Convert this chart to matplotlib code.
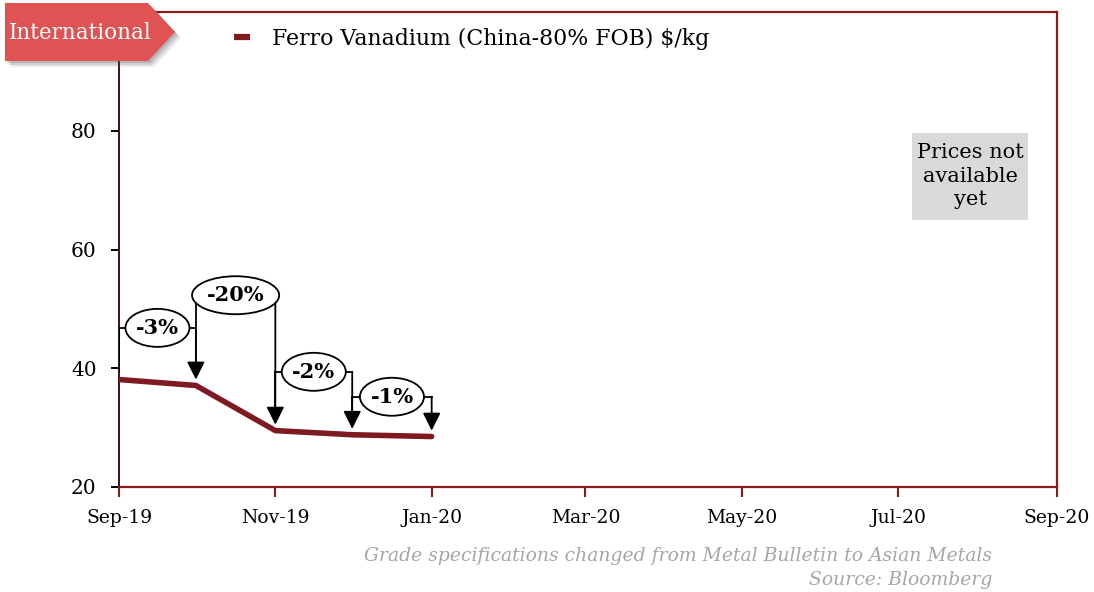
import matplotlib
matplotlib.use("Agg")
import matplotlib.pyplot as plt
import matplotlib.dates as mdates
from matplotlib.patches import Ellipse, Polygon, Rectangle
import datetime as dt

# ---- data ----
months = ["2019-09-01", "2019-10-01", "2019-11-01", "2019-12-01", "2020-01-01"]
prices = [38.1, 37.1, 29.5, 28.8, 28.5]
change_labels = ["-3%", "-20%", "-2%", "-1%"]
bracket_levels = [46.8, 52.3, 39.4, 35.2]
tick_dates = ["2019-09-01", "2019-11-01", "2020-01-01", "2020-03-01",
              "2020-05-01", "2020-07-01", "2020-09-01"]
tick_labels = ["Sep-19", "Nov-19", "Jan-20", "Mar-20", "May-20", "Jul-20", "Sep-20"]
y_ticks = [20, 40, 60, 80]
series_name = "Ferro Vanadium (China-80% FOB) $/kg"

x = [dt.datetime.fromisoformat(m) for m in months]
xt = [dt.datetime.fromisoformat(m) for m in tick_dates]

SERIF = ["DejaVu Serif"]
RED = "#8B1A1A"
LINE = "#7E1A22"

fig = plt.figure(figsize=(10.94, 5.92), dpi=100)
ax = fig.add_axes([119/1094, 1-487/592, (1057-119)/1094, (487-12)/592])

ax.plot(x, prices, color=LINE, lw=4, solid_capstyle="round", solid_joinstyle="round",
        label=series_name, zorder=3)

ax.set_xlim(xt[0], xt[-1])
ax.set_ylim(20, 100)
ax.set_xticks(xt)
ax.set_xticklabels(tick_labels, fontfamily=SERIF, fontsize=13.5)
ax.set_yticks(y_ticks)
ax.set_yticklabels([str(v) for v in y_ticks], fontfamily=SERIF, fontsize=14.5)

for s in ["top", "right", "bottom"]:
    ax.spines[s].set_color(RED)
    ax.spines[s].set_linewidth(1.6)
ax.spines["left"].set_color("#3b1212")
ax.spines["left"].set_linewidth(1.4)
ax.tick_params(axis="x", direction="out", length=7, width=1.5, color=RED, pad=9)
ax.tick_params(axis="y", direction="out", length=6, width=1.4, color="black", pad=10)

# ---- change brackets ----
tip_off = 1.0
for i, lab in enumerate(change_labels):
    x0, x1 = x[i], x[i + 1]
    L = bracket_levels[i]
    ax.plot([x0, x0], [prices[i] + 1.5, L], color="black", lw=1.3, zorder=4)
    ax.plot([x0, x1], [L, L], color="black", lw=1.3, zorder=4)
    ax.annotate("", xy=(x1, prices[i + 1] + tip_off), xytext=(x1, L),
                arrowprops=dict(arrowstyle="-|>,head_length=0.9,head_width=0.45",
                                color="black", lw=1.3, shrinkA=0, shrinkB=0,
                                mutation_scale=12), zorder=5)
    xm = x0 + (x1 - x0) / 2
    w = 34 if len(lab) > 3 else 25
    ax.add_patch(Ellipse((mdates.date2num(xm), L), width=w, height=6.4,
                         facecolor="white", edgecolor="black", lw=1.3, zorder=6))
    ax.text(xm, L, lab, ha="center", va="center", fontfamily=SERIF,
            fontweight="bold", fontsize=15, zorder=7)

# ---- Prices not available box ----
bx0 = (912 - 119) / (1057 - 119)
bx1 = (1028 - 119) / (1057 - 119)
by0 = (487 - 220) / (487 - 12)
by1 = (487 - 133) / (487 - 12)
ax.add_patch(Rectangle((bx0, by0), bx1 - bx0, by1 - by0, transform=ax.transAxes,
                       facecolor="#D9D9D9", edgecolor="none", zorder=2))
ax.text((bx0 + bx1) / 2, (by0 + by1) / 2, "Prices not\navailable\nyet",
        transform=ax.transAxes, ha="center", va="center", fontfamily=SERIF,
        fontsize=15, linespacing=1.3, zorder=3)

# ---- legend ----
leg = ax.legend(loc="center left", bbox_to_anchor=(214/1094, 1-39/592),
                bbox_transform=fig.transFigure, frameon=False, handlelength=0.75,
                handletextpad=1.0, prop=dict(family=SERIF, size=15.8))
for h in leg.get_lines():
    h.set_linewidth(4.5)
    h.set_solid_capstyle("butt")

# ---- International tag ----
W, H = 1094, 592
def fp(px, py):
    return (px / W, 1 - py / H)
for k, a in [(6, 0.12), (4, 0.18), (2, 0.22)]:
    sh = Polygon([fp(5 + k, 3 + k), fp(148 + k, 3 + k), fp(175 + k, 32 + k),
                  fp(148 + k, 61 + k), fp(5 + k, 61 + k)],
                 closed=True, transform=fig.transFigure, facecolor="#555555",
                 edgecolor="none", alpha=a, zorder=10)
    fig.patches.append(sh)
tag = Polygon([fp(5, 3), fp(148, 3), fp(175, 32), fp(148, 61), fp(5, 61)],
              closed=True, transform=fig.transFigure, facecolor="#E05355",
              edgecolor="none", zorder=11)
fig.patches.append(tag)
fig.text(9/W, 1 - 33/H, "International", color="white", fontfamily=SERIF,
         fontsize=15.5, ha="left", va="center", zorder=12)

# ---- footnotes ----
fig.text(992/W, 1 - 556/H, "Grade specifications changed from Metal Bulletin to Asian Metals",
         ha="right", va="center", color="#A6A6A6", fontfamily=SERIF, style="italic",
         fontsize=13.5)
fig.text(992/W, 1 - 580/H, "Source: Bloomberg", ha="right", va="center",
         color="#A6A6A6", fontfamily=SERIF, style="italic", fontsize=13.5)

fig.savefig("out.png", dpi=100)
